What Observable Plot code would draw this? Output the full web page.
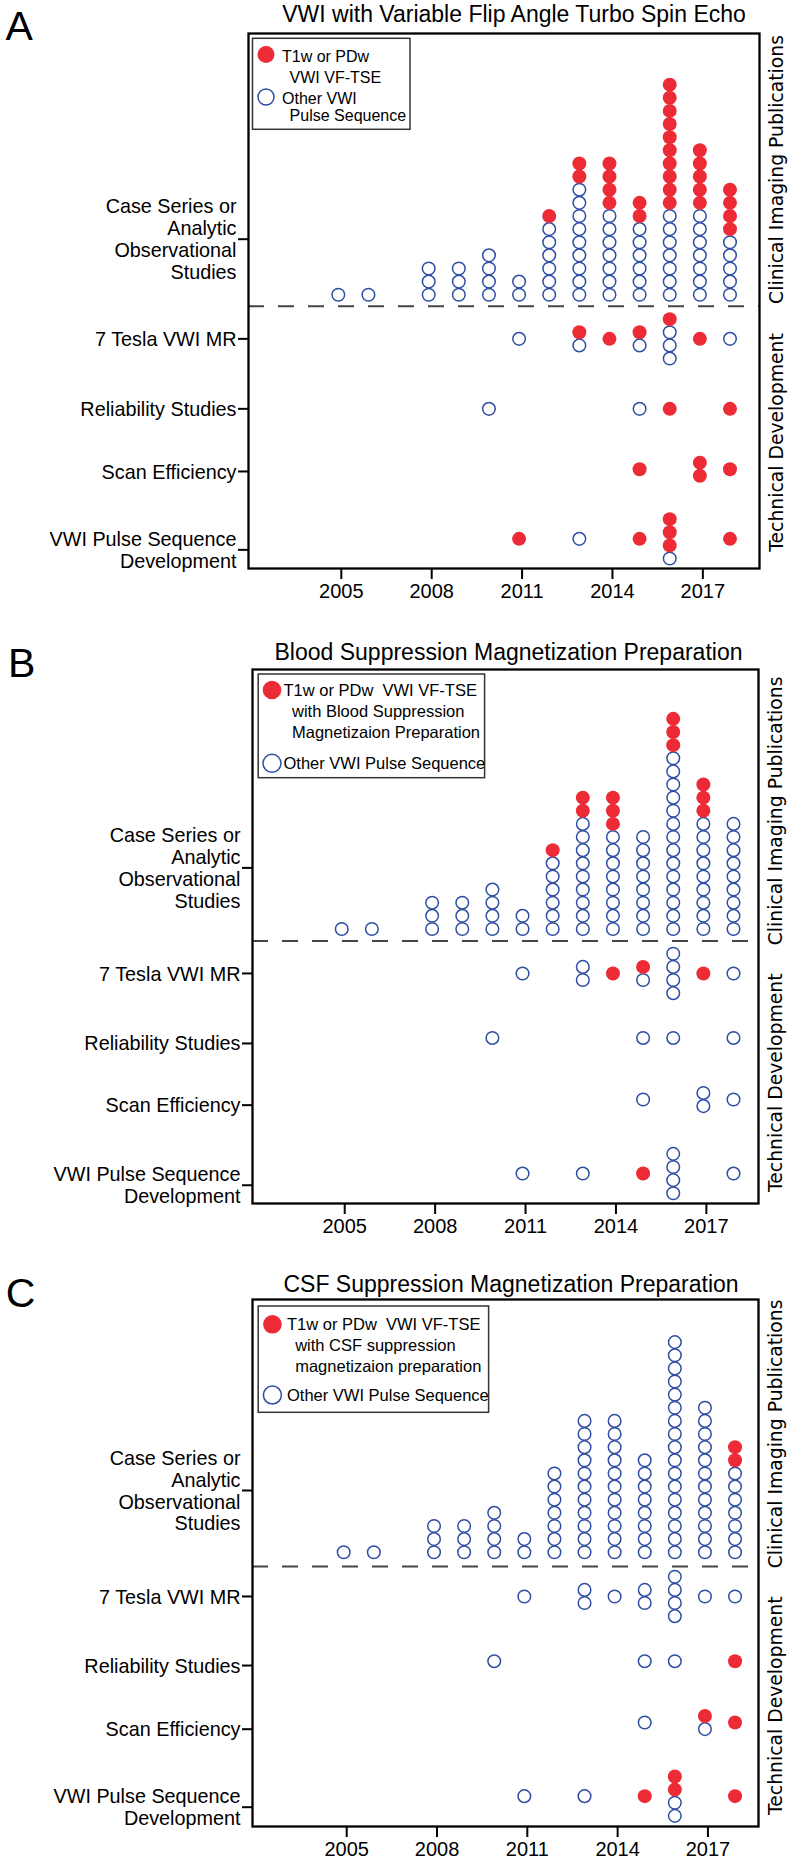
<!DOCTYPE html>
<html><head><meta charset="utf-8">
<script src="https://cdn.jsdelivr.net/npm/d3@7"></script>
<script src="https://cdn.jsdelivr.net/npm/@observablehq/plot@0.6"></script>
<style>
body{margin:0;background:#fff;}
.panel{position:relative;width:795px;}
.legend{position:absolute;left:0;top:0;overflow:visible;}
</style></head><body><div id="root"></div>
<script>
// ---------------- DATA ----------------
const years = [2005,2006,2007,2008,2009,2010,2011,2012,2013,2014,2015,2016,2017,2018];
const categories = ["Case Series or\nAnalytic\nObservational\nStudies","7 Tesla VWI MR","Reliability Studies","Scan Efficiency","VWI Pulse Sequence\nDevelopment"];
const xTickYears = [2005,2008,2011,2014,2017];
const panelLetters = ["A","B","C"];
const titles = ["VWI with Variable Flip Angle Turbo Spin Echo","Blood Suppression Magnetization Preparation","CSF Suppression Magnetization Preparation"];
const sectionLabels = ["Clinical Imaging Publications","Technical Development"];
const legendRedText = [["T1w or PDw","VWI VF-TSE"],["T1w or PDw  VWI VF-TSE","with Blood Suppression","Magnetizaion Preparation"],["T1w or PDw  VWI VF-TSE","with CSF suppression","magnetizaion preparation"]];
const legendBlueText = [["Other VWI","Pulse Sequence"],["Other VWI Pulse Sequence"],["Other VWI Pulse Sequence"]];

// counts per category (rows follow `categories`), per year (columns follow `years`)
const aRed = [
 [0,0,0,0,0,0,0,1,2,4,2,10,5,4],
 [0,0,0,0,0,0,0,0,1,1,1,1,1,0],
 [0,0,0,0,0,0,0,0,0,0,0,1,0,1],
 [0,0,0,0,0,0,0,0,0,0,1,0,2,1],
 [0,0,0,0,0,0,1,0,0,0,1,3,0,1]];
const aBlue = [
 [1,1,0,3,3,4,2,6,9,7,6,7,7,5],
 [0,0,0,0,0,0,1,0,1,0,1,3,0,1],
 [0,0,0,0,0,1,0,0,0,0,1,0,0,0],
 [0,0,0,0,0,0,0,0,0,0,0,0,0,0],
 [0,0,0,0,0,0,0,0,1,0,0,1,0,0]];
const bRed = [
 [0,0,0,0,0,0,0,1,2,3,0,3,3,0],
 [0,0,0,0,0,0,0,0,0,1,1,0,1,0],
 [0,0,0,0,0,0,0,0,0,0,0,0,0,0],
 [0,0,0,0,0,0,0,0,0,0,0,0,0,0],
 [0,0,0,0,0,0,0,0,0,0,1,0,0,0]];
const bBlue = [
 [1,1,0,3,3,4,2,6,9,8,8,14,9,9],
 [0,0,0,0,0,0,1,0,2,0,1,4,0,1],
 [0,0,0,0,0,1,0,0,0,0,1,1,0,1],
 [0,0,0,0,0,0,0,0,0,0,1,0,2,1],
 [0,0,0,0,0,0,1,0,1,0,0,4,0,1]];
const cRed = [
 [0,0,0,0,0,0,0,0,0,0,0,0,0,2],
 [0,0,0,0,0,0,0,0,0,0,0,0,0,0],
 [0,0,0,0,0,0,0,0,0,0,0,0,0,1],
 [0,0,0,0,0,0,0,0,0,0,0,0,1,1],
 [0,0,0,0,0,0,0,0,0,0,1,2,0,1]];
const cBlue = [
 [1,1,0,3,3,4,2,7,11,11,8,17,12,7],
 [0,0,0,0,0,0,1,0,2,1,2,4,1,1],
 [0,0,0,0,0,1,0,0,0,0,1,1,0,0],
 [0,0,0,0,0,0,0,0,0,0,1,0,1,0],
 [0,0,0,0,0,0,1,0,1,0,0,2,0,0]];

// ---------------- LAYOUT / STYLE ----------------
const SLOT = 13.13;            // px per stacked dot
const RED = "#ec2b36", BLUE = "#2e4ea4";
const FONT = "'Liberation Sans', Arial, sans-serif";
const layouts = [
 {h:636, top:33, frameH:535, left:248, right:36, xDomain:[2001.92,2018.88], caseBase:20.85,
  centers:[0,17.49,12.16,7.56,2.26], ticks:[25.08,17.49,12.16,7.39,1.42], dashed:19.98, clin:30.39, tech:9.6,
  titleDx:10, titleDy:-11.3, letterDx:-243, letterDy:6,
  lg:{box:[252.5,38.3,157.5,91], fs:16, red:[266,54.5,8.5], blue:[266,97,8],
      redLines:[[282,56.7],[289.6,77.3]], blueLines:[[282,98.3],[289.6,115.7]]}},
 {h:630, top:33, frameH:534, left:252, right:37, xDomain:[2001.94,2018.73], caseBase:20.91,
  centers:[0,17.52,12.61,7.92,2.28], ticks:[25.56,17.52,12.19,7.49,1.39], dashed:20.0, clin:29.9, tech:9.2,
  titleDy:-9.3, titleDx:3, letterDx:-244.4, letterDy:7.4,
  lg:{box:[258.2,38,226.4,103.7], fs:16.5, red:[272,54,9.3], blue:[272,127.3,9],
      redLines:[[283.5,54],[292,75.3],[292,96.3]], blueLines:[[283.5,127.3]]}},
 {h:593, top:33, frameH:527, left:252, right:37, xDomain:[2001.87,2018.68], caseBase:20.89,
  centers:[0,17.52,12.59,7.92,2.31], ticks:[25.59,17.52,12.26,7.41,1.47], dashed:19.8, clin:29.9, tech:9.2,
  titleDy:-7.6, titleDx:5.5, letterDx:-246.7, letterDy:7.7,
  lg:{box:[258.2,40,230.4,106.3], fs:16.5, red:[272.4,58.3,9.3], blue:[272.4,129,9],
      redLines:[[287,58.3],[295.2,79.7],[295.2,100.7]], blueLines:[[287,129]]}}
];
const panelData = [[aRed,aBlue],[bRed,bBlue],[cRed,cBlue]];

function buildDots(red, blue, L) {
  const out = [];
  categories.forEach((c, ci) => {
    years.forEach((yr, yi) => {
      const b = blue[ci][yi], r = red[ci][yi], n = b + r;
      for (let k = 0; k < n; k++) {
        const slot = ci === 0 ? L.caseBase + k : L.centers[ci] + k - (n - 1) / 2;
        out.push({year: yr, slot, kind: k < b ? "other" : "vf"});
      }
    });
  });
  return out;
}

const root = document.getElementById("root");
layouts.forEach((L, p) => {
  const [red, blue] = panelData[p];
  const dots = buildDots(red, blue, L);
  const tickLabel = new Map(L.ticks.map((t, i) => [t, categories[i]]));
  const chart = Plot.plot({
    width: 795, height: L.h,
    marginTop: L.top, marginBottom: L.h - L.top - L.frameH, marginLeft: L.left, marginRight: L.right,
    x: {domain: L.xDomain, axis: null, label: null},
    y: {domain: [0, L.frameH / SLOT], axis: null, label: null},
    style: {fontFamily: FONT, color: "black", background: "white"},
    marks: [
      Plot.ruleY([L.dashed], {stroke: "#444", strokeWidth: 2, strokeDasharray: "16,14"}),
      Plot.dot(dots.filter(d => d.kind === "other"), {x: "year", y: "slot", r: 6.3, stroke: BLUE, strokeWidth: 1.5, fill: "none", dx: -3}),
      Plot.dot(dots.filter(d => d.kind === "vf"), {x: "year", y: "slot", r: 7, fill: RED, stroke: "none", dx: -3}),
      Plot.frame({stroke: "black", strokeWidth: 2.3}),
      Plot.axisX({ticks: xTickYears, tickFormat: d => String(d), tickSize: 11, tickPadding: 4, fontSize: 20, strokeWidth: 2, label: null}),
      Plot.axisY({ticks: L.ticks, tickFormat: d => tickLabel.get(d), tickSize: 10, tickPadding: 2, fontSize: 19.8, lineHeight: 1.11, strokeWidth: 2, label: null}),
      Plot.text([titles[p]], {frameAnchor: "top", text: d => d, dx: L.titleDx, dy: L.titleDy, lineAnchor: "bottom", fontSize: 23}),
      Plot.text([panelLetters[p]], {frameAnchor: "top-left", text: d => d, textAnchor: "start", lineAnchor: "bottom", fontSize: 41, dx: L.letterDx, dy: L.letterDy}),
      Plot.text([{label: sectionLabels[0], slot: L.clin}, {label: sectionLabels[1], slot: L.tech}],
        {y: "slot", text: "label", frameAnchor: "right", rotate: -90, textAnchor: "middle", lineAnchor: "bottom",
         dx: 23, fontFamily: "'DejaVu Sans', sans-serif", fontSize: 18.8})
    ]
  });
  const wrap = document.createElement("div");
  wrap.className = "panel";
  wrap.style.height = L.h + "px";
  wrap.appendChild(chart);
  // legend overlay
  const g = L.lg, fs = g.fs, off = fs * 0.35;
  let s = `<svg class="legend" width="795" height="${L.h}" xmlns="http://www.w3.org/2000/svg" style="font-family:${FONT};font-size:${fs}px">`;
  s += `<rect x="${g.box[0]}" y="${g.box[1]}" width="${g.box[2]}" height="${g.box[3]}" fill="white" stroke="#333" stroke-width="1.5"/>`;
  s += `<circle cx="${g.red[0]}" cy="${g.red[1]}" r="${g.red[2]}" fill="${RED}"/>`;
  s += `<circle cx="${g.blue[0]}" cy="${g.blue[1]}" r="${g.blue[2]}" fill="none" stroke="${BLUE}" stroke-width="1.5"/>`;
  legendRedText[p].forEach((t, i) => { const [x, y] = g.redLines[i]; s += `<text x="${x}" y="${y + off}" style="white-space:pre" xml:space="preserve">${t}</text>`; });
  legendBlueText[p].forEach((t, i) => { const [x, y] = g.blueLines[i]; s += `<text x="${x}" y="${y + off}" style="white-space:pre" xml:space="preserve">${t}</text>`; });
  s += `</svg>`;
  wrap.insertAdjacentHTML("beforeend", s);
  root.appendChild(wrap);
});
</script></body></html>
